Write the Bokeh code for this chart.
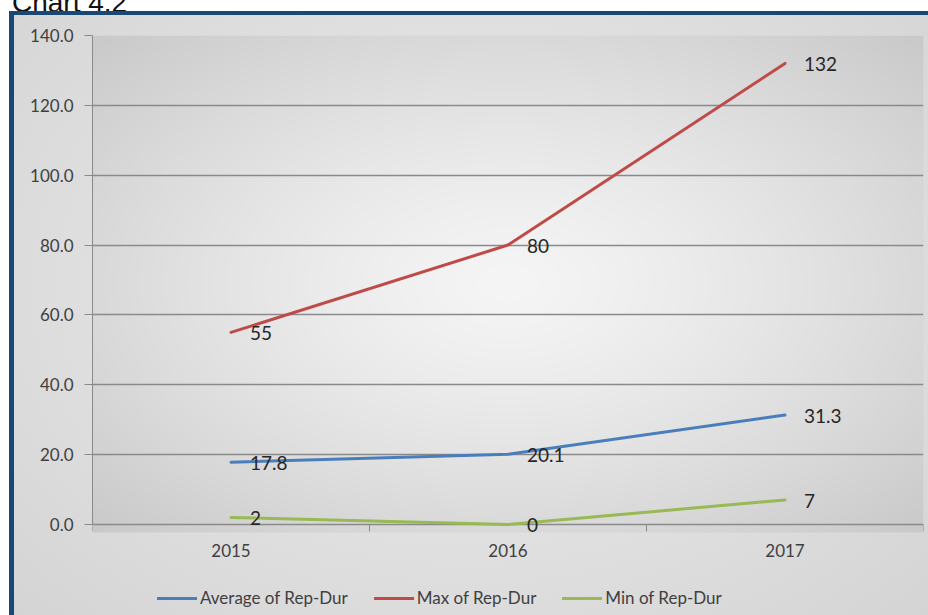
import numpy as np
from bokeh.plotting import figure
from bokeh.layouts import column, row
from bokeh.models import (Div, FixedTicker, NumeralTickFormatter, Legend, LegendItem,
                          ColumnDataSource)
from bokeh.core.properties import value
from bokeh.embed import file_html
from bokeh.resources import INLINE

# ---- data -------------------------------------------------------------
years = ["2015", "2016", "2017"]
avg_rep_dur = [17.8, 20.1, 31.3]
max_rep_dur = [55, 80, 132]
min_rep_dur = [2, 0, 7]
y_ticks = [0, 20, 40, 60, 80, 100, 120, 140]

series = [
    ("Average of Rep-Dur", avg_rep_dur, "#4a7ebb", "{:.1f}"),
    ("Max of Rep-Dur", max_rep_dur, "#be4b48", "{:g}"),
    ("Min of Rep-Dur", min_rep_dur, "#98b954", "{:g}"),
]

FONT = "Lato"
GRID = "#8a8a8a"
Y_TOP = 140
PLOT_FLOOR = -2.3     # bottom of the shaded plot area (room for category tick marks)
Y_BOTTOM = -25.8      # the frame continues down so the legend sits inside it

# x positions: category centres on a 0..3 numeric scale
xs = [i + 0.5 for i in range(len(years))]

p = figure(width=914, height=600, output_backend="svg", toolbar_location=None,
           x_range=(0, len(years)), y_range=(Y_BOTTOM, Y_TOP),
           min_border_left=78, min_border_right=5, min_border_top=20, min_border_bottom=1)
p.border_fill_alpha = 0
p.background_fill_alpha = 0
p.outline_line_color = None
p.styles = {"background": "radial-gradient(ellipse at 50% 45%, #eeeeee 0%, #dcdcdc 70%, #d4d4d4 100%)"}

# plot-area shading: soft radial gradient, light in the middle
nx, ny = 420, 250
gx = np.linspace(-1, 1, nx)[None, :]
gy = np.linspace(-1, 1, ny)[:, None]
r = np.sqrt(gx ** 2 + gy ** 2)
shade = np.clip(245 - 28 * r ** 1.3, 0, 255).astype(np.uint32)
img = (255 << 24) | (shade << 16) | (shade << 8) | shade
p.image_rgba(image=[img.astype(np.uint32)], x=0, y=PLOT_FLOOR, dw=len(years),
             dh=Y_TOP - PLOT_FLOOR, level="image")

# y axis
p.yaxis.ticker = FixedTicker(ticks=y_ticks)
p.yaxis.formatter = NumeralTickFormatter(format="0.0")
p.yaxis.bounds = (0, Y_TOP)
p.yaxis.axis_line_color = GRID
p.yaxis.major_tick_line_color = GRID
p.yaxis.major_tick_out = 8
p.yaxis.major_tick_in = 0
p.yaxis.minor_tick_line_color = None
p.yaxis.major_label_standoff = 11
p.yaxis.major_label_text_font = FONT
p.yaxis.major_label_text_font_size = "17px"
p.yaxis.major_label_text_color = "#404040"

p.xaxis.visible = False
p.xgrid.grid_line_color = None
p.ygrid.ticker = FixedTicker(ticks=y_ticks)
p.ygrid.grid_line_color = GRID
p.ygrid.grid_line_width = 1.5

# category boundary tick marks below the zero line
bounds = list(range(len(years) + 1))
p.segment(x0=bounds, y0=[0] * len(bounds), x1=bounds, y1=[-2.0] * len(bounds),
          line_color=GRID, line_width=1)

# year labels under the category centres
p.text(x=xs, y=[0] * len(xs), text=years, y_offset=26, text_align="center",
       text_baseline="middle", text_font=value(FONT), text_font_size="17px",
       text_color="#404040")

items = []
label_rows = {"x": [], "y": [], "t": []}
for name, vals, color, fmt in series:
    rend = p.line(xs, vals, line_color=color, line_width=3, line_join="round", line_cap="round")
    items.append(LegendItem(label=name, renderers=[rend]))
    for x, v in zip(xs, vals):
        label_rows["x"].append(x)
        label_rows["y"].append(v)
        label_rows["t"].append(fmt.format(v))

p.text(x="x", y="y", text="t", source=ColumnDataSource(label_rows),
       x_offset=19, y_offset=1, text_align="left", text_baseline="middle",
       text_font=value(FONT), text_font_size="19px", text_color="#262626")

legend = Legend(items=items, orientation="horizontal", location=(65, 6),
                label_text_font=FONT, label_text_font_size="17px", label_text_color="#404040",
                glyph_width=40, glyph_height=20, label_standoff=3, spacing=26,
                padding=0, margin=0, background_fill_alpha=0, border_line_color=None)
p.add_layout(legend, "center")

# page heading strip and the dark frame edges around the chart
heading = Div(text="<div style=\"margin:-14px 0 0 12px; font:28px 'Liberation Sans'; "
                   "line-height:28px; color:#111; white-space:nowrap\">Chart 4.2</div>",
              width=928, height=11, margin=0,
              styles={"overflow": "hidden", "background-color": "white"})
gap = Div(text="", width=9, height=604, margin=0, styles={"background-color": "white"})
edge_left = Div(text="", width=5, height=604, margin=0, styles={"background-color": "#1a4876"})
edge_top = Div(text="", width=914, height=4, margin=0, styles={"background-color": "#1a4876"})

page = column(heading, row(gap, edge_left, column(edge_top, p, spacing=0), spacing=0),
              spacing=0)

open("out.html", "w").write(file_html(page, INLINE))
